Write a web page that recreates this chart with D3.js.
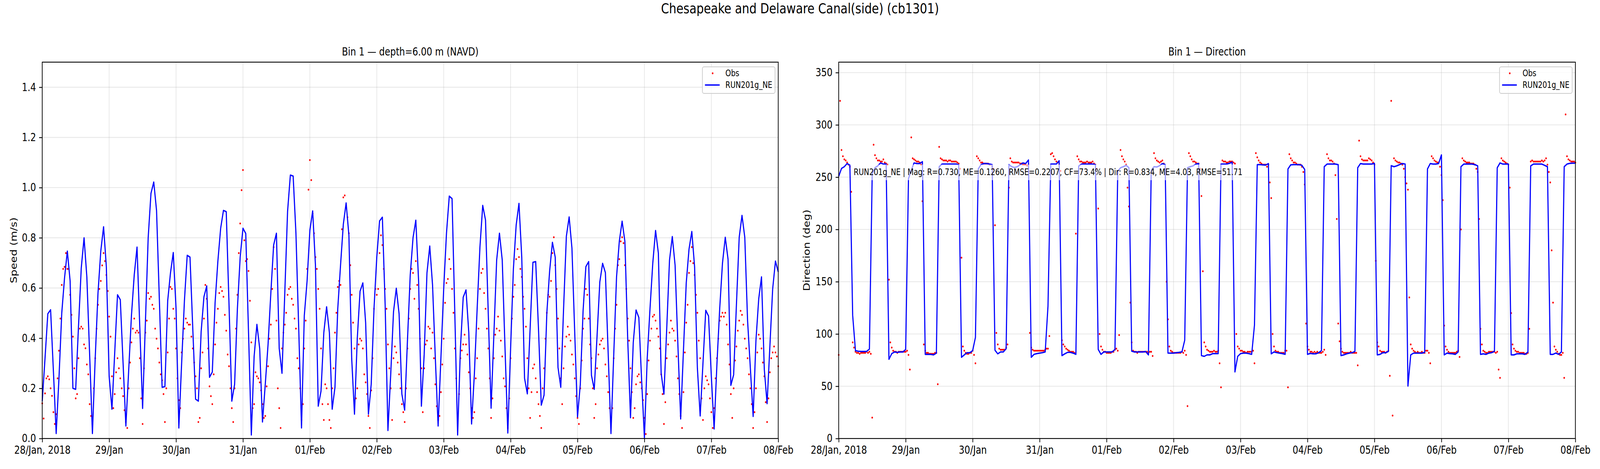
<!DOCTYPE html>
<html>
<head>
<meta charset="utf-8">
<script src="https://cdn.jsdelivr.net/npm/d3@7"></script>
<style>
  html, body { margin: 0; padding: 0; background: #fff; overflow: hidden; }
  svg { display: block; }
  text { font-family: "DejaVu Sans", sans-serif; fill: #000; }
</style>
</head>
<body>
<svg id="chart"></svg>
<script>
// x tick labels, one per day from 28 Jan 2018 to 08 Feb 2018
const tickLabels = ["28/Jan, 2018", "29/Jan", "30/Jan", "31/Jan", "01/Feb", "02/Feb",
  "03/Feb", "04/Feb", "05/Feb", "06/Feb", "07/Feb", "08/Feb"];
const speedTicks = [0.0, 0.2, 0.4, 0.6, 0.8, 1.0, 1.2, 1.4];
const dirTicks = [0, 50, 100, 150, 200, 250, 300, 350];

// model: hourly values, obs: half-hourly values
const speedModel = [
  0.149, 0.32, 0.497, 0.513, 0.27, 0.02, 0.24, 0.50, 0.64, 0.747, 0.628, 0.2,
  0.196, 0.446, 0.68, 0.8, 0.644, 0.335, 0.02, 0.32, 0.58, 0.747, 0.844, 0.684,
  0.248, 0.117, 0.343, 0.573, 0.553, 0.30, 0.05, 0.27, 0.49, 0.652, 0.763, 0.44,
  0.12, 0.46, 0.80, 0.977, 1.022, 0.909, 0.557, 0.204, 0.207, 0.549, 0.66, 0.741,
  0.517, 0.042, 0.30, 0.549, 0.73, 0.723, 0.438, 0.157, 0.149, 0.426, 0.565, 0.608,
  0.244, 0.265, 0.541, 0.707, 0.838, 0.909, 0.904, 0.533, 0.149, 0.216, 0.517, 0.723,
  0.838, 0.817, 0.42, 0.014, 0.327, 0.455, 0.359, 0.066, 0.216, 0.375, 0.58, 0.771,
  0.818, 0.359, 0.26, 0.58, 0.905, 1.05, 1.046, 0.818, 0.438, 0.042, 0.49, 0.628,
  0.83, 0.907, 0.691, 0.129, 0.189, 0.422, 0.525, 0.422, 0.117, 0.204, 0.517, 0.691,
  0.854, 0.939, 0.81, 0.319, 0.097, 0.398, 0.587, 0.62, 0.462, 0.097, 0.216, 0.517,
  0.723, 0.867, 0.882, 0.533, 0.032, 0.256, 0.505, 0.599, 0.497, 0.177, 0.113, 0.39,
  0.652, 0.8, 0.87, 0.628, 0.129, 0.335, 0.66, 0.767, 0.612, 0.32, 0.05, 0.32,
  0.596, 0.818, 0.966, 0.956, 0.493, 0.014, 0.359, 0.563, 0.592, 0.422, 0.058, 0.256,
  0.517, 0.763, 0.929, 0.871, 0.493, 0.121, 0.414, 0.711, 0.818, 0.711, 0.359, 0.022,
  0.359, 0.676, 0.851, 0.937, 0.723, 0.24, 0.178, 0.438, 0.702, 0.705, 0.438, 0.133,
  0.173, 0.501, 0.668, 0.782, 0.723, 0.284, 0.204, 0.517, 0.806, 0.883, 0.759, 0.422,
  0.086, 0.216, 0.509, 0.685, 0.705, 0.252, 0.196, 0.406, 0.624, 0.698, 0.661, 0.34,
  0.02, 0.335, 0.644, 0.787, 0.866, 0.785, 0.398, 0.083, 0.383, 0.512, 0.482, 0.232,
  0.002, 0.319, 0.517, 0.699, 0.829, 0.739, 0.26, 0.177, 0.438, 0.711, 0.805, 0.691,
  0.375, 0.078, 0.351, 0.62, 0.755, 0.825, 0.684, 0.28, 0.09, 0.30, 0.511, 0.488,
  0.248, 0.038, 0.295, 0.517, 0.699, 0.802, 0.714, 0.212, 0.254, 0.533, 0.802, 0.889,
  0.802, 0.47, 0.28, 0.088, 0.39, 0.557, 0.644, 0.276, 0.139, 0.367, 0.596, 0.707,
  0.664
];

const speedObs = [
  0.14, 0.08, 0.18, 0.24, 0.248, 0.236, 0.2, 0.17, 0.105, 0.058,
  0.097, 0.24, 0.35, 0.478, 0.612, 0.676, 0.684, 0.739, 0.676, 0.676,
  0.573, 0.493, 0.406, 0.28, 0.16, 0.177, 0.32, 0.438, 0.446, 0.438,
  0.375, 0.36, 0.295, 0.256, 0.137, 0.09, 0.058, 0.2, 0.32, 0.438,
  0.533, 0.596, 0.628, 0.69, 0.739, 0.707, 0.652, 0.588, 0.486, 0.406,
  0.248, 0.121, 0.177, 0.264, 0.32, 0.28, 0.24, 0.2, 0.169, 0.113,
  0.066, 0.042, 0.2, 0.303, 0.383, 0.438, 0.478, 0.422, 0.43, 0.422,
  0.32, 0.16, 0.058, 0.28, 0.422, 0.47, 0.58, 0.557, 0.565, 0.533,
  0.517, 0.438, 0.398, 0.359, 0.303, 0.256, 0.232, 0.177, 0.066, 0.2,
  0.343, 0.478, 0.604, 0.596, 0.517, 0.478, 0.359, 0.24, 0.153, 0.121,
  0.343, 0.398, 0.438, 0.478, 0.462, 0.454, 0.454, 0.406, 0.359, 0.303,
  0.248, 0.2, 0.066, 0.082, 0.28, 0.343, 0.478, 0.612, 0.557, 0.359,
  0.208, 0.169, 0.137, 0.256, 0.375, 0.462, 0.517, 0.58, 0.604, 0.588,
  0.565, 0.493, 0.43, 0.335, 0.288, 0.2, 0.121, 0.066,
  0.2, 0.438, 0.573, 0.739, 0.857, 0.99, 1.07, 0.79, 0.707, 0.715,
  0.668, 0.549, 0.383, 0.121, 0.137, 0.264, 0.248, 0.24, 0.224, 0.192,
  0.137, 0.082, 0.09, 0.208, 0.288, 0.398, 0.454, 0.596, 0.763, 0.676,
  0.47, 0.2, 0.121, 0.042, 0.359, 0.422, 0.454, 0.501, 0.573, 0.596,
  0.604, 0.557, 0.533, 0.478, 0.438, 0.32, 0.28, 0.2, 0.074, 0.137,
  0.359, 0.47, 0.676, 0.992, 1.11, 1.03, 0.897, 0.818, 0.723, 0.676,
  0.596, 0.517, 0.359, 0.137, 0.074, 0.216, 0.2, 0.137, 0.074, 0.042,
  0.2, 0.28, 0.422, 0.501, 0.604, 0.628, 0.612, 0.834, 0.961, 0.969,
  0.929, 0.882, 0.818, 0.691, 0.573, 0.462, 0.359, 0.16, 0.2, 0.375,
  0.398, 0.39, 0.359, 0.256, 0.224, 0.177, 0.09, 0.042, 0.192, 0.32,
  0.517, 0.596, 0.573, 0.596, 0.739, 0.81, 0.771, 0.676, 0.596, 0.517,
  0.375, 0.28, 0.2, 0.074, 0.32, 0.367, 0.343, 0.303, 0.256, 0.2,
  0.137, 0.105, 0.066, 0.2, 0.359, 0.478, 0.596, 0.676, 0.66, 0.557,
  0.707, 0.612, 0.517, 0.398, 0.28,
  0.105, 0.28, 0.375, 0.39, 0.446, 0.438, 0.359, 0.422, 0.32, 0.216,
  0.129, 0.074, 0.09, 0.185, 0.295, 0.398, 0.541, 0.62, 0.636, 0.715,
  0.676, 0.596, 0.501, 0.359, 0.24, 0.09, 0.177, 0.32, 0.351, 0.375,
  0.414, 0.375, 0.335, 0.264, 0.2, 0.121, 0.082, 0.105, 0.24, 0.32,
  0.438, 0.596, 0.66, 0.676, 0.58, 0.517, 0.438, 0.359, 0.24, 0.082,
  0.16, 0.32, 0.414, 0.438, 0.486, 0.43, 0.39, 0.327, 0.24, 0.208,
  0.121, 0.042, 0.16, 0.32, 0.478, 0.565, 0.612, 0.715, 0.755, 0.723,
  0.676, 0.644, 0.565, 0.517, 0.446, 0.32, 0.2, 0.082, 0.185, 0.28,
  0.295, 0.24, 0.185, 0.137, 0.09, 0.042, 0.2, 0.28, 0.398, 0.501,
  0.573, 0.565, 0.628, 0.739, 0.802, 0.691, 0.596, 0.478, 0.359, 0.24,
  0.137, 0.28, 0.367, 0.406, 0.446, 0.414, 0.39, 0.335, 0.295, 0.24,
  0.169, 0.082, 0.058, 0.2, 0.311, 0.438, 0.478, 0.596, 0.573, 0.478,
  0.375, 0.32, 0.2, 0.082, 0.137, 0.28, 0.335, 0.375, 0.39, 0.398,
  0.359, 0.295, 0.248, 0.185, 0.121, 0.066,
  0.121, 0.32, 0.438, 0.533, 0.691, 0.715, 0.786, 0.802, 0.779, 0.691,
  0.596, 0.478, 0.39, 0.28, 0.185, 0.082, 0.121, 0.216, 0.248, 0.256,
  0.224, 0.2, 0.153, 0.082, 0.018, 0.177, 0.311, 0.39, 0.438, 0.486,
  0.493, 0.47, 0.438, 0.406, 0.359, 0.256, 0.177, 0.058, 0.145, 0.32,
  0.375, 0.422, 0.47, 0.438, 0.43, 0.39, 0.327, 0.24, 0.177, 0.09,
  0.042, 0.185, 0.343, 0.462, 0.533, 0.66, 0.707, 0.763, 0.699, 0.652,
  0.573, 0.501, 0.39, 0.32, 0.16, 0.074, 0.2, 0.248, 0.232, 0.216,
  0.16, 0.105, 0.042, 0.121, 0.24, 0.32, 0.398, 0.47, 0.486, 0.501,
  0.486, 0.501, 0.454, 0.375, 0.295, 0.177, 0.082, 0.2, 0.311, 0.367,
  0.43, 0.47, 0.509, 0.493, 0.454, 0.398, 0.359, 0.32, 0.256, 0.2,
  0.137, 0.042, 0.105, 0.2, 0.343, 0.414, 0.398, 0.359, 0.303, 0.248,
  0.145, 0.066, 0.16, 0.264, 0.32, 0.343, 0.367, 0.343, 0.327, 0.288
];

const dirModel = [
  250.8, 258.3, 260, 263, 261.5, 117.8, 84, 83.5, 83.3, 83.3, 83.3, 85.6,
  253, 259, 260.8, 263.6, 262.5, 262.5, 75.8, 81.2, 82.8, 82.4, 82.8, 82.8,
  85.2, 248.5, 256.6, 263.6, 263, 263, 264.8, 80.5, 80.5, 80.5, 80, 81.7,
  260, 262.5, 262.5, 262.5, 262.5, 262.5, 262.5, 262, 77.7, 80, 82.1, 82.1,
  84, 96.8, 257.8, 262, 263, 263, 262.5, 262, 84.5, 81, 82.8, 82.8,
  85.9, 262, 260, 259.2, 260, 261.8, 263.6, 263, 266.4, 77.7, 80.5, 81.2,
  81.7, 82.1, 82.8, 126.7, 262.5, 262.5, 262.5, 265.7, 79.3, 81, 82.4, 82.4,
  81.7, 80.5, 260.6, 262.5, 262.5, 262.5, 262.5, 262.5, 262, 85.2, 80.5, 82.8,
  82.8, 82.8, 82.8, 85.2, 255.5, 259, 260, 261.3, 259, 83.5, 82.8, 82.8,
  82.8, 82.8, 83.3, 80, 256.6, 260, 259.7, 261, 263, 262, 81.7, 81.7,
  81.7, 82.1, 82.4, 82.8, 94, 259, 260, 260.8, 262.5, 263, 79.3, 78.6,
  80, 80, 81.2, 81.2, 81.2, 262.5, 262.5, 262.5, 263.2, 264.3, 63.7, 78.6,
  81.2, 81.7, 81.7, 81.2, 80.5, 108.5, 262, 262, 261.8, 261.5, 263, 81,
  82.8, 82.1, 81.7, 81.2, 80.5, 257.8, 261.8, 262, 262, 262, 261.3, 257.3,
  80.5, 81.4, 81, 81, 82.1, 84, 260, 262.5, 262.5, 262.5, 262.5, 262,
  79.3, 80, 81, 81.7, 82.1, 83.3, 259, 263, 262.5, 262.5, 262.5, 262.5,
  263.2, 80, 80.5, 82.1, 82.1, 83.3, 261, 260, 260.8, 262, 263, 262.5,
  50.2, 80, 81.7, 81.7, 81.7, 81.7, 82.4, 257.8, 263, 262.5, 262.5, 263,
  271.3, 80, 81.7, 81.2, 81, 80.5, 82.8, 260, 262.5, 262.5, 262.5, 262.5,
  262, 260.8, 80.5, 81, 80.5, 81.7, 82.1, 83.5, 259, 263.6, 262.5, 262.5,
  262.5, 80, 80, 81, 81, 81, 80.5, 82.8, 260.8, 262.5, 262.5, 262.5,
  262.5, 261.3, 260, 80.5, 80.5, 81.7, 80.5, 82.8, 260, 262.5, 263.2, 263.4,
  263.4
];

const dirObs = [
  80, 323, 276, 270, 267, 266, 264, 262, 260, 236,
  92, 87, 83, 82, 82, 81, 82, 82, 82, 82,
  83, 82, 83, 81, 20, 281, 271, 268, 266, 266,
  265, 265, 267, 264, 263, 262, 152, 92, 87, 84,
  83, 83, 82, 83, 83, 83, 83, 83, 83, 84,
  80, 66, 288, 268, 267, 266, 265, 265, 264, 262,
  227, 90, 84, 82, 82, 81, 81, 81, 81, 82,
  82, 52, 279, 268, 267, 266, 266, 266, 265, 266,
  266, 265, 265, 265, 265, 264, 263, 258, 173, 88,
  84, 82, 81, 81, 82, 82, 84, 80, 72, 270,
  268, 266, 264, 264, 263, 263, 263, 263, 262, 262,
  260, 258, 204, 101, 90, 86, 85, 85, 85, 85,
  87, 90, 240, 268, 265, 264, 264, 264, 264, 264,
  263, 263, 262, 262, 262, 261, 262, 101, 87, 85,
  84, 84, 84, 84, 84, 84, 84, 84, 85, 86,
  86, 98, 272, 273, 270, 267, 265, 264, 262, 256,
  94, 90, 88, 86, 85, 84, 83, 83, 83, 82,
  196, 270, 267, 265, 265, 264, 264,
  264, 265, 264, 264, 264, 265, 263, 262, 258, 220,
  100, 88, 85, 83, 83, 82, 82, 82, 82, 83,
  83, 85, 86, 84, 99, 276, 270, 267, 265, 262,
  240, 222, 130, 92, 84, 83, 83, 82, 83, 83,
  83, 83, 83, 83, 83, 82, 83, 83, 79, 273,
  268, 266, 265, 264, 265, 266, 263, 258, 150, 114,
  88, 84, 83, 82, 82, 82, 82, 82, 82, 83,
  82, 84, 80, 31, 273, 270, 267, 265, 265, 264,
  263, 263, 258, 232, 160, 92, 88, 85, 84, 83,
  83, 83, 84, 83, 83, 84, 72, 49, 266, 265,
  265, 264, 264, 265, 265, 265, 264, 263, 100, 88,
  86, 84, 84, 83, 83, 82, 83, 83, 83, 83,
  84, 72, 273, 269, 266, 264, 263, 262, 262, 262,
  260, 262, 245, 230, 100, 88, 84, 83, 83, 82,
  82, 82, 82, 84, 84, 49, 272, 268, 266, 264,
  264, 263, 262, 262, 262, 260, 255, 243, 110, 88,
  85, 83, 83, 82, 83, 82, 83, 82, 82, 82,
  83, 85, 80, 272, 268, 266,
  266, 265, 263, 252, 210, 110, 93, 86, 83, 82,
  82, 82, 82, 82, 83, 82, 82, 82, 82, 70,
  285, 270, 267, 266, 266, 266, 266, 268, 267, 266,
  264, 262, 170, 92, 88, 84, 83, 83, 83, 82,
  83, 84, 60, 323, 22, 268, 266, 265, 264, 264,
  263, 262, 258, 250, 244, 238, 135, 90, 86, 84,
  83, 82, 83, 82, 82, 83, 82, 82, 84, 84,
  82, 72, 270, 268, 266, 265, 264, 264, 260, 252,
  228, 108, 88, 85, 83, 82, 82, 82, 82, 82,
  83, 84, 78, 200, 268, 266, 265, 264, 264, 264,
  263, 263, 263, 262, 258, 255, 210, 105, 90, 84,
  83, 82, 82, 83, 83, 83, 83, 83, 82, 83,
  66, 58, 268, 266, 265, 264, 263, 262, 240, 120,
  90, 86, 84, 83, 83, 82, 82, 82, 82, 81,
  81, 82, 105, 265, 266, 265, 265, 265, 265, 265,
  265, 266, 265, 266, 268, 262, 255, 245, 180, 130,
  88, 85, 83, 81, 80, 80, 82, 58, 310, 270,
  267, 266, 265, 265, 265, 264
];

const modelName = "RUN201g_NE";
const statsText = "RUN201g_NE | Mag: R=0.730, ME=0.1260, RMSE=0.2207, CF=73.4% | Dir: R=0.834, ME=4.03, RMSE=51.71";

const start = Date.UTC(2018, 0, 28);
const HOUR = 3600e3;
const modelTime = i => new Date(start + i * HOUR);
const obsTime = i => new Date(start + i * HOUR / 2);
const days = tickLabels.map((_, i) => new Date(start + i * 24 * HOUR));

// figure is laid out in 5000x1200 units and fitted to the window
const vw = window.innerWidth || 5000, vh = window.innerHeight || 1200;
const svg = d3.select("#chart")
  .attr("width", vw).attr("height", vh)
  .attr("viewBox", "0 0 5000 1200")
  .attr("preserveAspectRatio", "none");
svg.append("rect").attr("width", 5000).attr("height", 1200).attr("fill", "#fff");

svg.append("text")
  .attr("x", 2500).attr("y", 34)
  .attr("text-anchor", "middle")
  .attr("font-size", 36)
  .text("Chesapeake and Delaware Canal(side) (cb1301)");

function drawPanel(p) {
  const top = 159, bottom = 1122;
  const x = d3.scaleUtc().domain([days[0], days[days.length - 1]]).range([p.left, p.right]);
  const y = d3.scaleLinear().domain(p.domain).range([bottom, top]);
  const g = svg.append("g");

  // grid
  g.append("g").selectAll("line").data(days).join("line")
    .attr("x1", d => x(d)).attr("x2", d => x(d))
    .attr("y1", top).attr("y2", bottom)
    .attr("stroke", "#b0b0b0").attr("stroke-opacity", 0.3).attr("stroke-width", 2.2);
  g.append("g").selectAll("line").data(p.ticks).join("line")
    .attr("x1", p.left).attr("x2", p.right)
    .attr("y1", d => y(d)).attr("y2", d => y(d))
    .attr("stroke", "#b0b0b0").attr("stroke-opacity", 0.3).attr("stroke-width", 2.2);

  // obs dots, then model line on top
  g.append("g").selectAll("circle").data(p.obs).join("circle")
    .attr("cx", (d, i) => x(obsTime(i)))
    .attr("cy", d => y(d))
    .attr("r", 2.5)
    .attr("fill", "#ff0000");

  const line = d3.line()
    .x((d, i) => x(modelTime(i)))
    .y(d => y(d));
  g.append("path")
    .datum(p.model)
    .attr("d", line)
    .attr("fill", "none")
    .attr("stroke", "#0000ff")
    .attr("stroke-width", 3.5)
    .attr("stroke-linejoin", "round");

  // axes
  const xAxis = d3.axisBottom(x)
    .tickValues(days)
    .tickFormat((d, i) => tickLabels[i])
    .tickSize(9.7).tickPadding(9.7);
  const yAxis = d3.axisLeft(y)
    .tickValues(p.ticks)
    .tickFormat(p.fmt)
    .tickSize(9.7).tickPadding(9.7);
  [[xAxis, `translate(0,${bottom})`], [yAxis, `translate(${p.left},0)`]].forEach(([ax, tr]) => {
    g.append("g").attr("transform", tr).call(ax)
      .call(a => a.select(".domain").remove())
      .call(a => a.selectAll("line").attr("stroke", "#000").attr("stroke-width", 2.2))
      .call(a => a.selectAll("text").attr("font-size", 27.8).attr("fill", "#000")
        .attr("font-family", "DejaVu Sans"));
  });

  // spines
  g.append("rect")
    .attr("x", p.left).attr("y", top)
    .attr("width", p.right - p.left).attr("height", bottom - top)
    .attr("fill", "none").attr("stroke", "#000").attr("stroke-width", 2.2);

  g.append("text")
    .attr("x", (p.left + p.right) / 2).attr("y", 142)
    .attr("text-anchor", "middle").attr("font-size", 27.8)
    .text(p.title);

  g.append("text")
    .attr("transform", `translate(${p.labelX},${(top + bottom) / 2}) rotate(-90)`)
    .attr("text-anchor", "middle").attr("font-size", 27.8)
    .text(p.ylabel);

  if (p.note) {
    const noteG = g.append("g");
    const bg = noteG.append("rect").attr("fill", "#fff").attr("fill-opacity", 0.6);
    const t = noteG.append("text")
      .attr("x", p.left + 47).attr("y", 448)
      .attr("font-size", 22.2)
      .text(p.note);
    const w = t.node().getComputedTextLength();
    bg.attr("x", p.left + 39).attr("y", 421).attr("width", w + 16).attr("height", 40);
  }

  // legend
  const lx = p.right - 237, ly = 171;
  const lg = g.append("g");
  lg.append("rect")
    .attr("x", lx).attr("y", ly).attr("width", 227).attr("height", 68)
    .attr("rx", 5).attr("fill", "#fff").attr("fill-opacity", 0.8)
    .attr("stroke", "#cccccc").attr("stroke-width", 2.2);
  lg.append("circle").attr("cx", lx + 32).attr("cy", 187.5).attr("r", 2.5).attr("fill", "#ff0000");
  lg.append("line")
    .attr("x1", lx + 8).attr("x2", lx + 54).attr("y1", 217.5).attr("y2", 217.5)
    .attr("stroke", "#0000ff").attr("stroke-width", 3.5);
  lg.append("text").attr("x", lx + 72).attr("y", 195.5).attr("font-size", 22.2).text("Obs");
  lg.append("text").attr("x", lx + 72).attr("y", 225.5).attr("font-size", 22.2).text(modelName);
}

drawPanel({
  left: 132, right: 2432,
  domain: [0, 1.5], ticks: speedTicks, fmt: d3.format(".1f"),
  model: speedModel, obs: speedObs,
  title: "Bin 1 \u2014 depth=6.00 m (NAVD)",
  ylabel: "Speed (m/s)", labelX: 52
});

drawPanel({
  left: 2621, right: 4923,
  domain: [0, 360], ticks: dirTicks, fmt: d3.format("d"),
  model: dirModel, obs: dirObs,
  title: "Bin 1 \u2014 Direction",
  ylabel: "Direction (deg)", labelX: 2531,
  note: statsText
});
</script>
</body>
</html>
